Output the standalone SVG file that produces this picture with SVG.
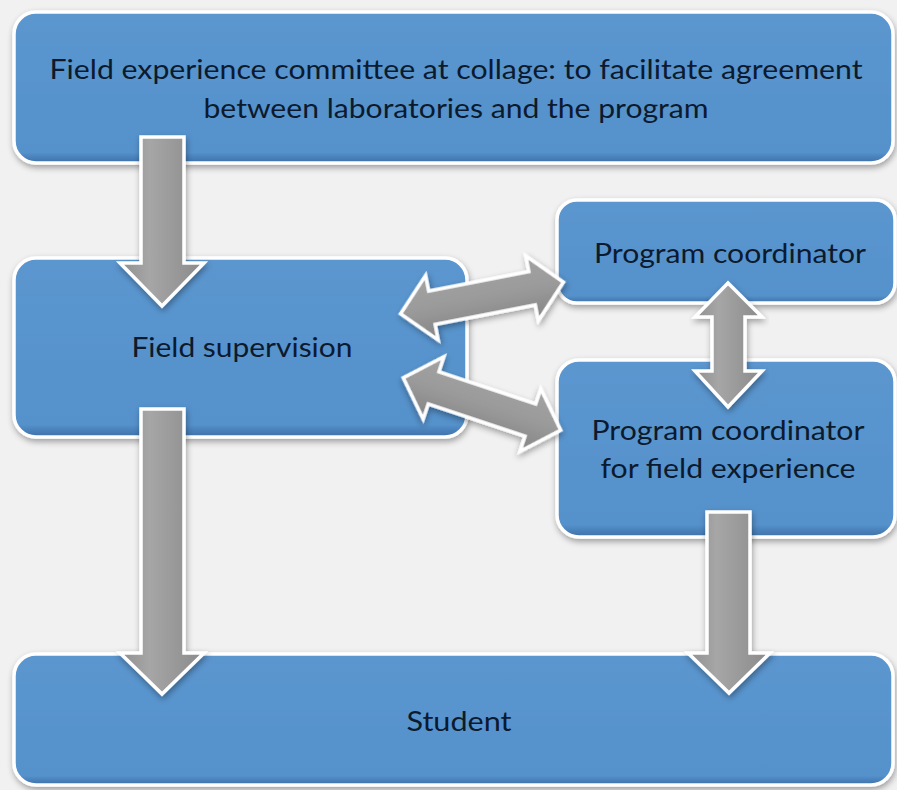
<svg xmlns="http://www.w3.org/2000/svg" width="897" height="790" viewBox="0 0 897 790">
  <defs>
    <linearGradient id="boxFill" x1="0" y1="0" x2="0" y2="1">
      <stop offset="0" stop-color="#5b96cf"/>
      <stop offset="0.93" stop-color="#5591cb"/>
      <stop offset="1" stop-color="#3d70a8"/>
    </linearGradient>
    <linearGradient id="arrowFillV" x1="0" y1="0" x2="1" y2="0">
      <stop offset="0" stop-color="#8f8f8f"/>
      <stop offset="0.35" stop-color="#a6a6a6"/>
      <stop offset="1" stop-color="#8a8a8a"/>
    </linearGradient>
    <linearGradient id="arrowFillH" x1="0" y1="0" x2="0" y2="1">
      <stop offset="0" stop-color="#a3a3a3"/>
      <stop offset="0.5" stop-color="#9a9a9a"/>
      <stop offset="1" stop-color="#848484"/>
    </linearGradient>
    <filter id="shadow" x="-10%" y="-10%" width="120%" height="130%">
      <feGaussianBlur in="SourceAlpha" stdDeviation="3"/>
      <feOffset dx="1" dy="3" result="b"/>
      <feComponentTransfer><feFuncA type="linear" slope="0.35"/></feComponentTransfer>
      <feMerge><feMergeNode/><feMergeNode in="SourceGraphic"/></feMerge>
    </filter>
  </defs>
  <style>
    .box { fill: url(#boxFill); stroke: #ffffff; stroke-width: 3.5; filter: url(#shadow); }
    .arr { fill: url(#arrowFillV); stroke: #ffffff; stroke-width: 3.5; stroke-linejoin: miter; filter: url(#shadow); }
    .arrh { fill: url(#arrowFillH); stroke: #ffffff; stroke-width: 3.5; stroke-linejoin: miter; filter: url(#shadow); }
    .lbl { font-family: "Lato", "Noto Sans", "Liberation Sans", sans-serif; font-size: 27px; fill: #0c1a2d; text-anchor: middle; }
  </style>
  <rect width="897" height="790" fill="#f1f1f1"/>

  <g id="committee">
    <rect class="box" x="14" y="12" width="879" height="151" rx="22"/>
    <text class="lbl" x="456" y="79" textLength="813" lengthAdjust="spacingAndGlyphs">Field experience committee at collage: to facilitate agreement</text>
    <text class="lbl" x="456" y="118" textLength="505" lengthAdjust="spacingAndGlyphs">between laboratories and the program</text>
  </g>
  <g id="field-supervision">
    <rect class="box" x="14" y="258" width="453" height="179" rx="22"/>
    <text class="lbl" x="242" y="357" textLength="221" lengthAdjust="spacingAndGlyphs">Field supervision</text>
  </g>
  <g id="program-coordinator">
    <rect class="box" x="557" y="200" width="338" height="103" rx="20"/>
    <text class="lbl" x="730" y="263" textLength="272" lengthAdjust="spacingAndGlyphs">Program coordinator</text>
  </g>
  <g id="program-coordinator-fe">
    <rect class="box" x="557" y="360" width="338" height="177" rx="22"/>
    <text class="lbl" x="728" y="440" textLength="273" lengthAdjust="spacingAndGlyphs">Program coordinator</text>
    <text class="lbl" x="728" y="478" textLength="255" lengthAdjust="spacingAndGlyphs">for field experience</text>
  </g>
  <g id="student">
    <rect class="box" x="14" y="654" width="879" height="131" rx="22"/>
    <text class="lbl" x="459" y="731" textLength="105" lengthAdjust="spacingAndGlyphs">Student</text>
  </g>

  <g id="connectors">
    <polygon class="arr" points="141,137 184,137 184,263 204,263 162,306 120,263 141,263"/>
    <polygon class="arr" points="141,409 184,409 184,653 204,653 162,694 120,653 141,653"/>
    <polygon class="arr" points="707,512 750,512 750,653 770,653 729,693 688,653 707,653"/>
    <polygon class="arr" points="728,283 762,317 745,317 745,371 762,371 728,407 695,371 712,371 712,317 695,317"/>
    <polygon class="arrh" transform="translate(482,298) rotate(-11)" points="-83,0 -51,-33 -51,-17 51,-17 51,-33 83,0 51,33 51,17 -51,17 -51,33"/>
    <polygon class="arrh" transform="translate(482,404) rotate(18.4)" points="-83,0 -51,-33 -51,-17 51,-17 51,-33 83,0 51,33 51,17 -51,17 -51,33"/>
  </g>
</svg>
